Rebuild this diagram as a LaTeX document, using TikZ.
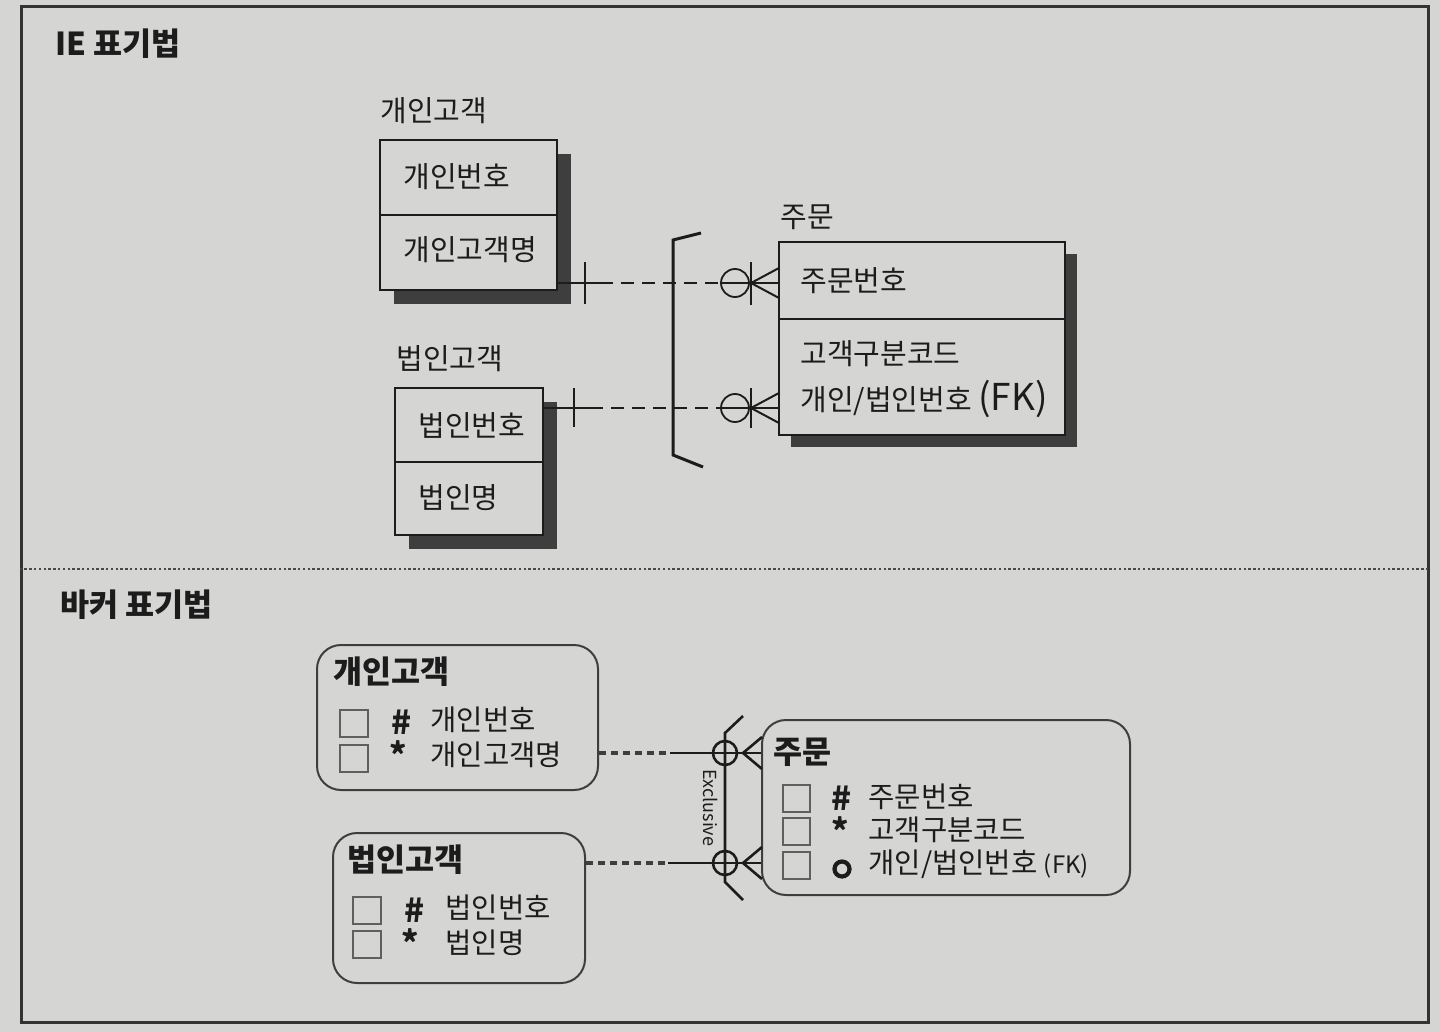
\documentclass[tikz,border=0pt]{standalone}
\usepackage{fontspec}
\setmainfont{Noto Sans CJK KR}
\usetikzlibrary{fit}
\definecolor{paper}{RGB}{213,213,211}
\definecolor{ink}{RGB}{28,28,28}
\definecolor{shade}{RGB}{62,62,62}
\definecolor{boxgray}{RGB}{95,95,95}
\tikzset{
  iebox/.style={draw=ink, line width=1pt, fill=paper, inner sep=0pt},
  ieshadow/.style={fill=shade, draw=none, inner sep=0pt},
  bkbox/.style={draw=ink!85, line width=1pt, rounded corners=12pt, inner sep=0pt},
  chk/.style={draw=boxgray, line width=1.2pt, inner sep=0pt},
  txt/.style={anchor=west, inner sep=0pt, text=ink, font=\fontsize{14.5}{17}\selectfont},
  ttl/.style={anchor=west, inner sep=0pt, text=ink, font=\fontsize{15.8}{18}\selectfont\bfseries},
  bktxt/.style={anchor=west, inner sep=0pt, text=ink, font=\fontsize{14.3}{16}\selectfont},
  sym/.style={inner sep=0pt, text=ink, font=\fontsize{16.5}{18}\selectfont\bfseries},
  ieln/.style={draw=ink, line width=1pt},
  iedash/.style={draw=ink, line width=1pt, dash pattern=on 6.5pt off 4pt},
  bkln/.style={draw=ink, line width=1.3pt},
  bkdot/.style={draw=ink!85, line width=1.8pt, dash pattern=on 3.5pt off 2.5pt},
  ieo/.style={circle, draw=ink, line width=0.9pt, minimum size=14pt, inner sep=0pt},
  bko/.style={circle, draw=ink, line width=1.3pt, minimum size=12pt, inner sep=0pt},
}
\begin{document}
\begin{tikzpicture}[x=0.5pt,y=-0.5pt]
\fill[paper] (0,0) rectangle (1440,1032);
\useasboundingbox (0,0) rectangle (1440,1032);
% frame
\node[draw=ink!90, line width=1.5pt, inner sep=0pt, fit={(21,7)(1428,1022)}] (frame) {};
\draw[ink!80, line width=0.7pt, dash pattern=on 1.2pt off 1.2pt] (frame.west |- 0,569) coordinate (sepL) -- (frame.east |- 0,569) coordinate (sepR);

% ================= IE =================
\node[ttl] (ietitle) at (55,44) {IE 표기법};

\node[txt] (lgi) at (380,111) {개인고객};
\node[ieshadow, fit={(394,154)(571,304)}] (gis) {};
\node[iebox, fit={(380,140)(557,290)}] (gi) {};
\draw[ieln] (380,215) -- (557,215);
\node[txt] (gi1) at (403,177) {개인번호};
\node[txt] (gi2) at (403,250) {개인고객명};

\node[txt] (lbi) at (396,359) {법인고객};
\node[ieshadow, fit={(409,402)(557,549)}] (bis) {};
\node[iebox, fit={(395,388)(543,535)}] (bi) {};
\draw[ieln] (395,462) -- (543,462);
\node[txt] (bi1) at (418,425) {법인번호};
\node[txt] (bi2) at (418,498) {법인명};

\node[txt] (lju) at (780,217) {주문};
\node[ieshadow, fit={(791,254)(1077,447)}] (jus) {};
\node[iebox, fit={(779,242)(1065,435)}] (ju) {};
\draw[ieln] (779,319) -- (1065,319);
\node[txt] (ju1) at (800,281) {주문번호};
\node[txt] (ju2) at (800,354) {고객구분코드};
\node[txt] (ju3) at (800,399) {개인/법인번호 \fontsize{18.5}{20}\selectfont(FK)};

% IE relationship 1
\node[ieo] (o1) at (735,283) {};
\coordinate (a1) at (557,283);
\coordinate (d1) at (600,283);
\coordinate (f1) at (751,283);
\coordinate (e1) at (779,283);
\draw[ieln] (a1) -- (d1);
\draw[ieln] (585,262) -- (585,304);
\draw[iedash] (d1) -- (o1.west);
\draw[ieln] (o1.west) -- (e1);
\draw[ieln] (751,262) -- (751,305);
\draw[ieln] (779,268) -- (f1) -- (779,298);

% IE relationship 2
\node[ieo] (o2) at (735,408) {};
\coordinate (a2) at (543,408);
\coordinate (d2) at (590,408);
\coordinate (f2) at (751,408);
\coordinate (e2) at (779,408);
\draw[ieln] (a2) -- (d2);
\draw[ieln] (574,388) -- (574,427);
\draw[iedash] (d2) -- (o2.west);
\draw[ieln] (o2.west) -- (e2);
\draw[ieln] (751,388) -- (751,428);
\draw[ieln] (779,393) -- (f2) -- (779,423);

% exclusive bracket
\draw[draw=ink, line width=1.5pt] (701,233) -- (673,240) -- (673,455) -- (703,467);

% ================= Barker =================
\node[ttl] (bktitle) at (60,605) {바커 표기법};

% 개인고객
\node[bkbox, fit={(317,645)(598,790)}] (gk) {};
\node[ttl] (gkt) at (333,672) {개인고객};
\node[chk, fit={(340,710)(368,737)}] (gkc1) {};
\node[chk, fit={(340,745)(368,772)}] (gkc2) {};
\node[sym] (gks1) at (402,722) {\#};
\node[sym] (gks2) at (398,754) {*};
\node[bktxt] (gka1) at (430,720) {개인번호};
\node[bktxt] (gka2) at (430,755) {개인고객명};

% 법인고객
\node[bkbox, fit={(333,833)(585,983)}] (bk) {};
\node[ttl] (bkt) at (347,860) {법인고객};
\node[chk, fit={(353,897)(381,924)}] (bkc1) {};
\node[chk, fit={(353,931)(381,958)}] (bkc2) {};
\node[sym] (bks1) at (415,910) {\#};
\node[sym] (bks2) at (410,942) {*};
\node[bktxt] (bka1) at (445,908) {법인번호};
\node[bktxt] (bka2) at (445,943) {법인명};

% 주문
\node[bkbox, fit={(762,720)(1130,895)}] (jk) {};
\node[ttl] (jkt) at (773,752) {주문};
\node[chk, fit={(783,785)(810,812)}] (jkc1) {};
\node[chk, fit={(783,818)(810,845)}] (jkc2) {};
\node[chk, fit={(783,852)(810,879)}] (jkc3) {};
\node[sym] (jks1) at (842,798) {\#};
\node[sym] (jks2) at (840,830) {*};
\node[circle, draw=ink, line width=2.1pt, minimum size=7.5pt, inner sep=0pt] (jks3) at (842,869) {};
\node[bktxt] (jka1) at (868,797) {주문번호};
\node[bktxt] (jka2) at (868,830) {고객구분코드};
\node[bktxt] (jka3) at (868,864) {개인/법인번호 \fontsize{12}{13}\selectfont(FK)};

% Barker relationships
\node[bko] (p1) at (725,753) {};
\node[bko] (p2) at (725,863) {};
\coordinate (g1) at (670,753);
\coordinate (g2) at (668,863);
\coordinate (q1) at (743,753);
\coordinate (q2) at (743,863);
\draw[bkdot] (gk.east |- g1) -- (g1);
\draw[bkln] (g1) -- (jk.west |- g1);
\draw[bkdot] (bk.east |- g2) -- (g2);
\draw[bkln] (g2) -- (jk.west |- g2);
\draw[bkln] (762,737) -- (q1) -- (762,769);
\draw[bkln] (762,847) -- (q2) -- (762,879);
\draw[bkln] (743,716) -- (725,733) -- (p1.center) -- (p2.center) -- (725,882) -- (743,900);
\node[inner sep=0pt, rotate=-90, text=ink, font=\fontsize{9}{10}\selectfont] (excl) at (711,808) {Exclusive};
\end{tikzpicture}
\end{document}
